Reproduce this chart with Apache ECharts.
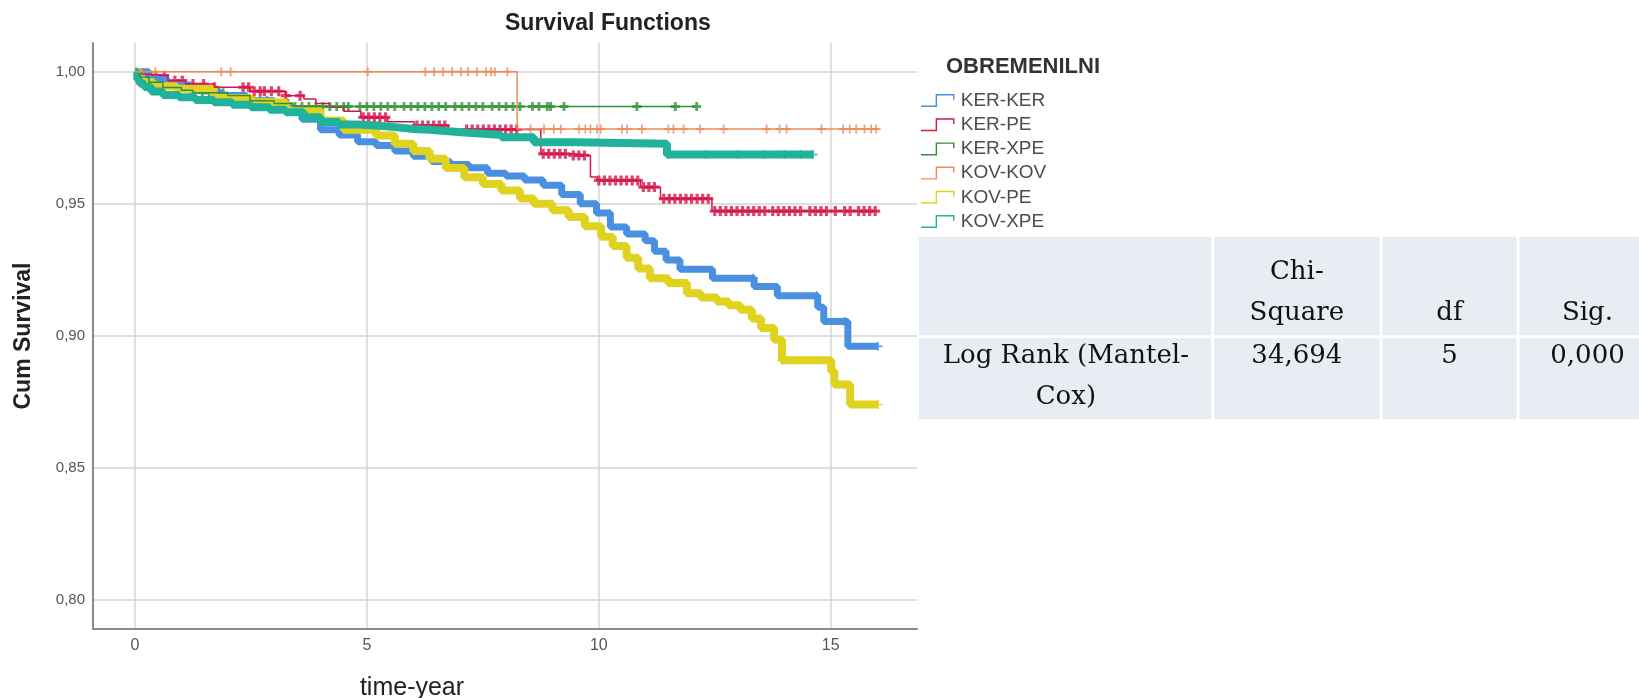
<!DOCTYPE html>
<html>
<head>
<meta charset="utf-8">
<title>Survival Functions</title>
<script src="https://cdn.jsdelivr.net/npm/echarts@6/dist/echarts.min.js"></script>
<style>
  html, body { margin: 0; padding: 0; background: #fff; }
  #chart { width: 1639px; height: 698px; }
</style>
</head>
<body>
<div id="chart"></div>
<script>
// groups (legend order)
const groups = ['KER-KER', 'KER-PE', 'KER-XPE', 'KOV-KOV', 'KOV-PE', 'KOV-XPE'];

// Kaplan-Meier steps: time (years) and cum survival from that time on
const kerKerTime = [0, 0.3, 0.7, 1.2, 1.8, 2.4, 3.0, 3.6, 4.0, 4.4, 4.8, 5.2, 5.6, 6.0, 6.4, 6.8, 7.2, 7.6, 8.0, 8.4, 8.8, 9.2, 9.6, 9.95, 10.25, 10.6, 11.0, 11.2, 11.45, 11.75, 12.45, 13.35, 13.85, 14.72, 14.85, 15.37, 16.02];
const kerKerSurv = [1.0, 0.997, 0.995, 0.993, 0.991, 0.989, 0.986, 0.982, 0.978, 0.976, 0.9735, 0.972, 0.970, 0.968, 0.966, 0.9648, 0.9636, 0.9615, 0.9605, 0.959, 0.957, 0.9535, 0.950, 0.9465, 0.9412, 0.9385, 0.936, 0.932, 0.9287, 0.9252, 0.9218, 0.9186, 0.9151, 0.9108, 0.9054, 0.896, 0.896];

const kerPeTime = [0, 0.15, 0.32, 0.71, 1.09, 1.71, 2.48, 3.25, 3.64, 3.9, 4.2, 4.5, 4.87, 5.45, 6.02, 6.75, 8.75, 9.43, 9.82, 9.96, 10.9, 11.33, 12.44, 16.02];
const kerPeSurv = [1.0, 0.999, 0.9985, 0.9966, 0.9953, 0.9941, 0.9926, 0.9909, 0.9897, 0.988, 0.9865, 0.985, 0.9827, 0.981, 0.9796, 0.9781, 0.9689, 0.9683, 0.9601, 0.9588, 0.9563, 0.9519, 0.9472, 0.9472];

const kerXpeTime = [0, 0.1, 0.3, 0.6, 1.0, 1.25, 2.0, 2.48, 3.0, 3.4, 12.11];
const kerXpeSurv = [1.0, 0.998, 0.996, 0.994, 0.993, 0.992, 0.991, 0.989, 0.988, 0.9868, 0.9868];

const kovKovTime = [0, 8.24, 16.02];
const kovKovSurv = [1.0, 0.9783, 0.9783];

const kovPeTime = [0, 0.1, 0.4, 0.9, 1.7, 2.5, 3.25, 4.0, 4.5, 5.2, 5.6, 6.0, 6.35, 6.7, 7.1, 7.5, 7.9, 8.3, 8.6, 9.0, 9.35, 9.7, 10.05, 10.3, 10.6, 10.85, 11.1, 11.5, 11.9, 12.2, 12.55, 12.8, 13.05, 13.3, 13.5, 13.78, 13.95, 15.01, 15.08, 15.42, 16.02];
const kovPeSurv = [1.0, 0.996, 0.9945, 0.9935, 0.990, 0.9884, 0.9853, 0.9815, 0.978, 0.9758, 0.9727, 0.970, 0.967, 0.9635, 0.960, 0.9575, 0.955, 0.952, 0.950, 0.9475, 0.945, 0.9415, 0.9375, 0.934, 0.9295, 0.9255, 0.9218, 0.920, 0.9161, 0.9145, 0.913, 0.9115, 0.9098, 0.9065, 0.9029, 0.8985, 0.8907, 0.8865, 0.8815, 0.8739, 0.8739];

const kovXpeTime = [0, 0.05, 0.1, 0.2, 0.35, 0.6, 0.95, 1.3, 1.7, 2.1, 2.5, 2.9, 3.25, 3.64, 4.0, 4.4, 4.8, 5.2, 5.6, 6.0, 6.35, 6.7, 7.1, 7.6, 7.9, 8.6, 9.5, 11.47, 14.62];
const kovXpeSurv = [1.0, 0.997, 0.9955, 0.9942, 0.9925, 0.9912, 0.9903, 0.9893, 0.9884, 0.9875, 0.9865, 0.9856, 0.9846, 0.9827, 0.9809, 0.980, 0.9796, 0.979, 0.9783, 0.978, 0.9775, 0.977, 0.9764, 0.976, 0.9752, 0.9733, 0.9727, 0.9686, 0.9686];

// censored times (+ marks)
const kerKerCensor = [13.33, 14.7, 15.3, 16.02];
const kerPeCensor = [0.32, 0.45, 0.63, 0.86, 1.02, 1.25, 1.48, 1.71, 2.33, 2.45, 2.57, 2.7, 2.79, 2.94, 3.1, 3.25, 3.56,
  4.92, 5.04, 5.16, 5.28, 5.4, 6.08, 6.2, 6.32, 6.44, 6.56, 6.68,
  7.15, 7.27, 7.39, 7.51, 7.63, 7.75, 7.87, 7.99, 8.11, 8.23,
  8.8, 8.92, 9.04, 9.16, 9.28, 9.45, 9.57, 9.69, 10.0, 10.12, 10.24, 10.36, 10.48, 10.6, 10.72, 10.84,
  10.96, 11.08, 11.2, 11.4, 11.52, 11.64, 11.76, 11.88, 12.0, 12.12, 12.24, 12.36,
  12.5, 12.62, 12.74, 12.86, 12.98, 13.1, 13.22, 13.34, 13.46, 13.58, 13.75, 13.87, 13.99, 14.11, 14.23, 14.35,
  14.55, 14.67, 14.79, 14.91, 15.1, 15.3, 15.42, 15.6, 15.72, 15.84, 15.96];
const kerXpeCensor = [1.45, 1.6, 1.75, 1.9, 2.55, 2.7, 2.85, 3.0, 3.15, 3.3, 3.45, 3.6, 3.75, 3.9, 4.05, 4.2, 4.35, 4.5, 4.6,
  4.85, 5.0, 5.15, 5.3, 5.45, 5.6, 5.8, 5.95, 6.1, 6.25, 6.4, 6.55, 6.7, 6.9, 7.05, 7.2, 7.35, 7.5,
  7.7, 7.85, 8.0, 8.15, 8.3, 8.57, 8.71, 8.89, 8.96, 9.25, 10.82, 11.65, 12.11];
const kovKovCensor = [0.44, 1.86, 2.06, 5.02, 6.26, 6.45, 6.64, 6.84, 7.03, 7.18, 7.37, 7.57, 7.68, 7.76, 8.03,
  8.53, 8.82, 9.03, 9.18, 9.57, 9.71, 9.82, 9.96, 10.04, 10.5, 10.61, 10.93, 11.5, 11.61, 11.83, 12.18, 12.69,
  13.62, 13.9, 14.05, 14.8, 15.27, 15.41, 15.55, 15.73, 15.87, 15.98];
const kovPeCensor = [13.95, 15.3, 16.02];
const kovXpeCensor = [11.5, 12.3, 13.0, 13.55, 14.0, 14.35, 14.62];

// axis ticks
const xTicks = [0, 5, 10, 15];
const yTicks = [0.80, 0.85, 0.90, 0.95, 1.00];

// log rank table
const tableHead = ['', 'Chi-\nSquare', 'df', 'Sig.'];
const tableBody = ['Log Rank (Mantel-\nCox)', '34,694', '5', '0,000'];

const thinPlus = 'path://M4,0L6,0L6,4L10,4L10,6L6,6L6,10L4,10L4,6L0,6L0,4L4,4Z';
const boldPlus = 'path://M3.4,0L6.6,0L6.6,3.4L10,3.4L10,6.6L6.6,6.6L6.6,10L3.4,10L3.4,6.6L0,6.6L0,3.4L3.4,3.4Z';
const stepIcon = 'path://M0,11.6L14.3,11.6L14.3,0.3L32.7,0.3L32.7,6L31.3,6L31.3,1.7L15.7,1.7L15.7,13L0,13Z';
const font = 'Arial, "Liberation Sans", sans-serif';

// drawing order: later ones on top
const curves = [
  { name: 'KER-KER', time: kerKerTime, surv: kerKerSurv, censor: kerKerCensor, color: '#4a8fe0', width: 7, mark: 9, plus: thinPlus },
  { name: 'KOV-PE', time: kovPeTime, surv: kovPeSurv, censor: kovPeCensor, color: '#dfd31f', width: 8, mark: 9, plus: thinPlus },
  { name: 'KER-PE', time: kerPeTime, surv: kerPeSurv, censor: kerPeCensor, color: '#d4174a', width: 1.5, mark: 10, plus: boldPlus },
  { name: 'KOV-XPE', time: kovXpeTime, surv: kovXpeSurv, censor: kovXpeCensor, color: '#21b29b', width: 8, mark: 9, plus: thinPlus },
  { name: 'KER-XPE', time: kerXpeTime, surv: kerXpeSurv, censor: kerXpeCensor, color: '#33913a', width: 1.5, mark: 9, plus: boldPlus },
  { name: 'KOV-KOV', time: kovKovTime, surv: kovKovSurv, censor: kovKovCensor, color: '#f08a5a', width: 1.5, mark: 9, plus: thinPlus }
];

function survAt(time, surv, t) {
  let s = surv[0];
  for (let i = 0; i < time.length; i++) {
    if (time[i] <= t) s = surv[i];
  }
  return s;
}

const series = [];
curves.forEach(function (c) {
  series.push({
    name: c.name,
    type: 'line',
    step: 'end',
    symbol: 'none',
    color: c.color,
    lineStyle: { color: c.color, width: c.width },
    data: c.time.map(function (t, i) { return [t, c.surv[i]]; })
  });
});
curves.forEach(function (c) {
  series.push({
    name: c.name,
    type: 'scatter',
    symbol: c.plus,
    symbolSize: c.mark,
    color: c.color,
    itemStyle: { color: c.color },
    silent: true,
    data: c.censor.map(function (t) { return [t, survAt(c.time, c.surv, t)]; })
  });
});

// table graphic
const colEdges = [919, 1212.7, 1381, 1518, 1657];
const rowEdges = [236.7, 336.7, 420.7];
const graphic = [];
[tableHead, tableBody].forEach(function (row, r) {
  row.forEach(function (txt, c) {
    const x0 = colEdges[c] + (c > 0 ? 1.5 : 0);
    const x1 = colEdges[c + 1] - 1.5;
    const y0 = rowEdges[r] + (r > 0 ? 1.5 : 0);
    const y1 = rowEdges[r + 1] - 1.5;
    graphic.push({
      type: 'rect',
      shape: { x: x0, y: y0, width: x1 - x0, height: y1 - y0 },
      style: { fill: '#e8ecf3' },
      silent: true
    });
    graphic.push({
      type: 'text',
      x: (colEdges[c] + colEdges[c + 1]) / 2,
      y: r === 0 ? rowEdges[1] - 2.5 : rowEdges[1] - 0.5,
      silent: true,
      style: {
        text: txt,
        fill: '#111',
        fontSize: 26,
        fontFamily: '"DejaVu Serif", "Liberation Serif", serif',
        lineHeight: 41,
        align: 'center',
        verticalAlign: r === 0 ? 'bottom' : 'top'
      }
    });
  });
});
graphic.push({
  type: 'text',
  x: 412,
  y: 688,
  silent: true,
  style: { text: 'time-year', fill: '#222', fontSize: 25, fontFamily: font, align: 'center', verticalAlign: 'middle' }
});

const chart = echarts.init(document.getElementById('chart'));

const option = {
  animation: false,
  backgroundColor: '#fff',
  title: [
    {
      text: 'Survival Functions',
      left: 505,
      top: 12,
      padding: 0,
      textStyle: { fontSize: 23, fontWeight: 'bold', color: '#222', fontFamily: font }
    },
    {
      text: 'OBREMENILNI',
      left: 946,
      top: 56,
      padding: 0,
      textStyle: { fontSize: 22, fontWeight: 'bold', color: '#333', fontFamily: font }
    }
  ],
  legend: {
    data: groups,
    orient: 'vertical',
    left: 921,
    top: 91,
    padding: 0,
    icon: stepIcon,
    itemWidth: 36,
    itemHeight: 13,
    itemGap: 5.2,
    selectedMode: false,
    textStyle: { fontSize: 19, color: '#4d4d4d', fontFamily: font }
  },
  grid: { left: 93, right: 722, top: 43, bottom: 69 },
  xAxis: {
    type: 'value',
    min: -0.9056,
    max: 16.861,
    axisLine: { onZero: false, lineStyle: { color: '#8a8a8a', width: 2 } },
    axisTick: { show: false, customValues: xTicks },
    axisLabel: { customValues: xTicks, fontSize: 16, color: '#555', fontFamily: font, margin: 9 },
    splitLine: { show: true, lineStyle: { color: '#d6d6d6', width: 1.5 } }
  },
  yAxis: {
    type: 'value',
    min: 0.7889,
    max: 1.01087,
    name: 'Cum Survival',
    nameLocation: 'middle',
    nameGap: 58,
    nameTextStyle: { fontSize: 23, fontWeight: 'bold', color: '#222', fontFamily: font },
    axisLine: { show: true, onZero: false, lineStyle: { color: '#8a8a8a', width: 2 } },
    axisTick: { show: false, customValues: yTicks },
    axisLabel: {
      customValues: yTicks,
      fontSize: 15,
      color: '#555',
      fontFamily: font,
      margin: 8,
      formatter: function (v) { return v.toFixed(2).replace('.', ','); }
    },
    splitLine: { show: true, lineStyle: { color: '#d6d6d6', width: 1.5 } }
  },
  graphic: graphic,
  series: series
};

chart.setOption(option);

window.addEventListener('resize', function () {
  chart.resize();
});
</script>
</body>
</html>
